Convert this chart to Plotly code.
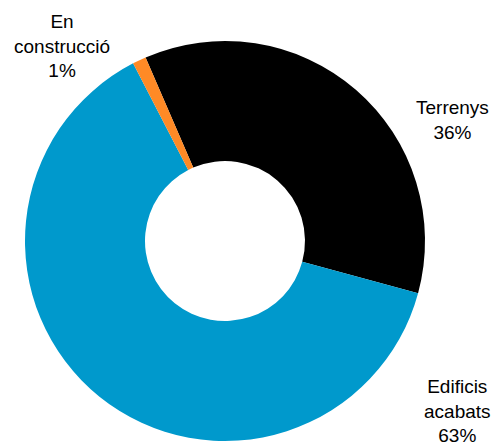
import plotly.graph_objects as go

categories = ["Terrenys", "Edificis acabats", "En construcció"]
label_lines = ["Terrenys", "Edificis<br>acabats", "En<br>construcció"]
values = [35.7, 63.2, 1.1]
colors = ["#000000", "#0099CC", "#FF8A26"]

W, H = 497, 446

fig = go.Figure(go.Pie(
    labels=categories,
    values=values,
    hole=0.4,
    sort=False,
    direction="clockwise",
    rotation=-23.4,
    marker=dict(colors=colors, line=dict(width=0)),
    textinfo="none",
    hoverinfo="label+percent",
    domain=dict(x=[25 / W, 425 / W], y=[1 - 441 / H, 1 - 41 / H]),
    showlegend=False,
))

total = sum(values)
label_pos = [(452, 120), (457, 411), (62, 46)]
for lab, v, (px, py) in zip(label_lines, values, label_pos):
    fig.add_annotation(
        x=px / W, y=1 - py / H, xref="paper", yref="paper",
        text=f"{lab}<br>{round(100 * v / total)}%",
        showarrow=False, xanchor="center", yanchor="middle",
        font=dict(family="Liberation Sans, Arial", size=19, color="#000000"),
    )

fig.update_layout(
    width=W, height=H,
    margin=dict(l=0, r=0, t=0, b=0),
    paper_bgcolor="white", plot_bgcolor="white",
)
fig.write_html(
    "out.html",
    config={"displayModeBar": False},
    post_script="document.body.style.margin='0';document.body.style.overflow='hidden';",
)
